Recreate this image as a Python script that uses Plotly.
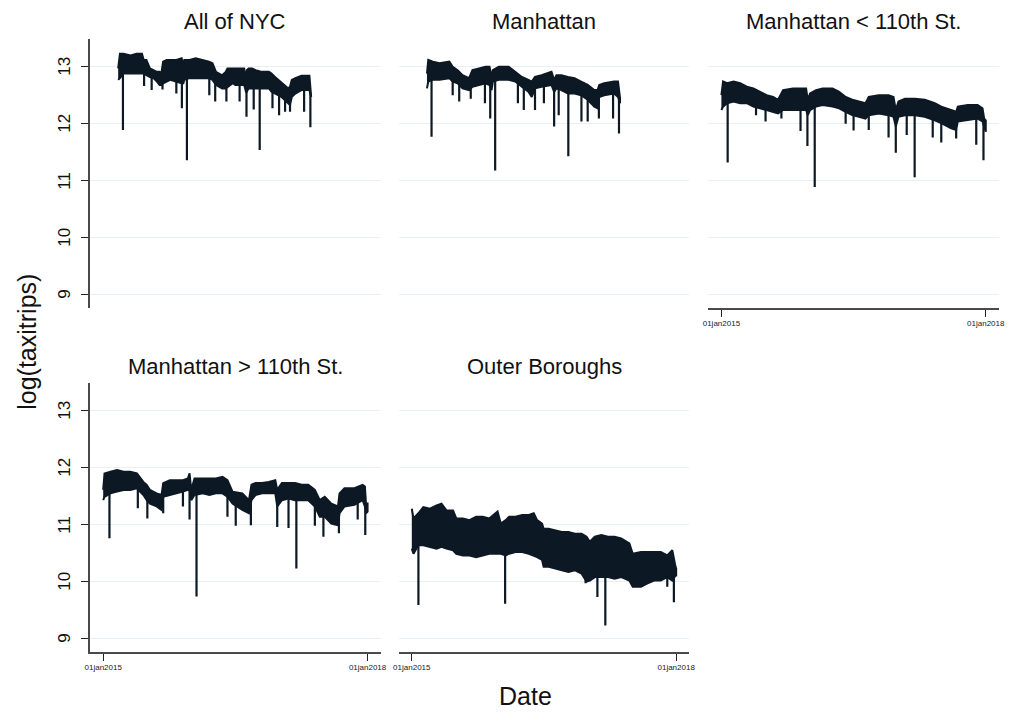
import numpy as np
import plotly.graph_objects as go

# ---------------- data (x in decimal years) ----------------
titles = ["All of NYC", "Manhattan", "Manhattan < 110th St.",
          "Manhattan > 110th St.", "Outer Boroughs"]
x_tick_vals = [2015, 2018]
x_tick_text = ["01jan2015", "01jan2018"]
y_tick_vals = [9, 10, 11, 12, 13]
y_title = "log(taxitrips)"
x_title = "Date"

# All of NYC: band of daily values (upper / lower envelope) and single-day dips
nyc_dates = [2015.17, 2015.19, 2015.23, 2015.31, 2015.38, 2015.44, 2015.46, 2015.49, 2015.53, 2015.57,
             2015.61, 2015.64, 2015.66, 2015.68, 2015.72, 2015.76, 2015.83, 2015.89, 2015.91, 2015.92,
             2015.98, 2016.05, 2016.13, 2016.20, 2016.24, 2016.28, 2016.35, 2016.39, 2016.41, 2016.47,
             2016.50, 2016.60, 2016.62, 2016.63, 2016.65, 2016.69, 2016.73, 2016.80, 2016.88, 2016.91,
             2016.95, 2016.99, 2017.03, 2017.06, 2017.10, 2017.12, 2017.14, 2017.18, 2017.25, 2017.34,
             2017.36]
nyc_upper = [12.97, 13.23, 13.23, 13.20, 13.23, 13.23, 13.12, 13.12, 12.97, 12.94,
             12.91, 12.91, 12.88, 13.09, 13.12, 13.12, 13.12, 13.15, 13.00, 13.12,
             13.12, 13.15, 13.12, 13.09, 13.06, 12.91, 12.85, 12.91, 12.97, 12.97,
             12.97, 12.97, 12.77, 12.94, 12.97, 12.97, 12.94, 12.91, 12.91, 12.88,
             12.82, 12.77, 12.71, 12.68, 12.62, 12.65, 12.77, 12.80, 12.84, 12.84,
             12.56]
nyc_lower = [12.77, 12.80, 12.88, 12.88, 12.88, 12.88, 12.88, 12.85, 12.82, 12.80,
             12.74, 12.68, 12.68, 12.71, 12.74, 12.77, 12.74, 12.71, 12.71, 12.77,
             12.80, 12.80, 12.80, 12.80, 12.77, 12.68, 12.62, 12.62, 12.65, 12.71,
             12.68, 12.68, 12.56, 12.56, 12.62, 12.62, 12.62, 12.62, 12.62, 12.56,
             12.53, 12.50, 12.46, 12.42, 12.36, 12.33, 12.47, 12.53, 12.59, 12.59,
             12.47]
nyc_dip_dates = [2015.224, 2015.464, 2015.55, 2015.673, 2015.83, 2015.893, 2015.95, 2016.204,
                 2016.271, 2016.398, 2016.548, 2016.626, 2016.708, 2016.776, 2016.921, 2016.996,
                 2017.064, 2017.12, 2017.28, 2017.351]
nyc_dip_vals = [11.89, 12.66, 12.59, 12.60, 12.53, 12.27, 11.36, 12.50,
                12.39, 12.39, 12.39, 12.12, 12.25, 11.54, 12.27, 12.15,
                12.21, 12.21, 12.21, 11.94]

# Manhattan
man_dates = [2015.172, 2015.187, 2015.239, 2015.314, 2015.426, 2015.464, 2015.520, 2015.576, 2015.650,
             2015.688, 2015.763, 2015.837, 2015.882, 2015.905, 2015.920, 2015.987, 2016.099, 2016.174,
             2016.249, 2016.323, 2016.361, 2016.398, 2016.473, 2016.585, 2016.615, 2016.641, 2016.697,
             2016.772, 2016.847, 2016.921, 2016.996, 2017.071, 2017.108, 2017.127, 2017.183, 2017.295,
             2017.340, 2017.363]
man_upper = [12.88, 13.12, 13.09, 13.06, 13.09, 13.00, 12.94, 12.85, 12.80,
             12.94, 12.97, 13.00, 13.00, 12.82, 12.94, 13.00, 13.00, 12.91,
             12.82, 12.77, 12.74, 12.82, 12.85, 12.91, 12.77, 12.85, 12.85,
             12.82, 12.80, 12.74, 12.68, 12.59, 12.59, 12.68, 12.71, 12.74,
             12.74, 12.45]
man_lower = [12.62, 12.74, 12.77, 12.77, 12.80, 12.74, 12.71, 12.62, 12.59,
             12.65, 12.68, 12.71, 12.68, 12.59, 12.74, 12.77, 12.77, 12.74,
             12.65, 12.56, 12.47, 12.62, 12.65, 12.68, 12.56, 12.62, 12.59,
             12.53, 12.53, 12.50, 12.42, 12.30, 12.27, 12.47, 12.50, 12.53,
             12.47, 12.36]
man_dip_dates = [2015.224, 2015.464, 2015.538, 2015.669, 2015.830, 2015.890, 2015.946, 2016.204,
                 2016.271, 2016.398, 2016.499, 2016.615, 2016.667, 2016.776, 2016.925, 2016.996,
                 2017.123, 2017.284, 2017.351]
man_dip_vals = [11.77, 12.50, 12.39, 12.44, 12.36, 12.09, 11.18, 12.36,
                12.24, 12.24, 12.36, 11.95, 12.15, 11.43, 12.04, 12.04,
                12.09, 12.09, 11.83]

# Manhattan < 110th St.
low_dates = [2015.000, 2015.019, 2015.064, 2015.138, 2015.213, 2015.288, 2015.363, 2015.438, 2015.513,
             2015.587, 2015.643, 2015.700, 2015.812, 2015.905, 2015.961, 2015.980, 2016.006, 2016.074,
             2016.149, 2016.261, 2016.336, 2016.410, 2016.485, 2016.560, 2016.635, 2016.672, 2016.785,
             2016.897, 2016.953, 2016.979, 2017.009, 2017.084, 2017.196, 2017.308, 2017.421, 2017.495,
             2017.608, 2017.664, 2017.683, 2017.795, 2017.907, 2017.963, 2017.982, 2018.000]
low_upper = [12.50, 12.74, 12.71, 12.74, 12.71, 12.65, 12.62, 12.56, 12.50,
             12.47, 12.42, 12.59, 12.62, 12.62, 12.62, 12.42, 12.53, 12.59,
             12.62, 12.62, 12.56, 12.47, 12.42, 12.39, 12.36, 12.47, 12.50,
             12.50, 12.47, 12.24, 12.39, 12.44, 12.44, 12.42, 12.36, 12.30,
             12.24, 12.21, 12.30, 12.33, 12.33, 12.27, 12.09, 12.06]
low_lower = [12.24, 12.30, 12.36, 12.39, 12.36, 12.36, 12.30, 12.27, 12.24,
             12.21, 12.18, 12.24, 12.24, 12.24, 12.24, 12.15, 12.24, 12.30,
             12.33, 12.30, 12.27, 12.21, 12.15, 12.12, 12.09, 12.15, 12.18,
             12.15, 12.12, 11.95, 12.12, 12.15, 12.15, 12.12, 12.06, 12.01,
             11.92, 11.89, 12.04, 12.06, 12.09, 12.04, 11.95, 11.86]
low_dip_dates = [2015.071, 2015.393, 2015.501, 2015.681, 2015.898, 2015.976, 2016.059, 2016.410,
                 2016.500, 2016.672, 2016.897, 2016.979, 2017.103, 2017.193, 2017.398, 2017.495,
                 2017.664, 2017.892, 2017.974]
low_dip_vals = [11.32, 12.15, 12.04, 12.09, 11.87, 11.61, 10.89, 12.00,
                11.88, 11.89, 11.76, 11.49, 11.80, 11.06, 11.76, 11.67,
                11.74, 11.63, 11.36]

# Manhattan > 110th St.
up_dates = [2015.000, 2015.015, 2015.082, 2015.157, 2015.232, 2015.307, 2015.382, 2015.456, 2015.494,
            2015.531, 2015.606, 2015.662, 2015.681, 2015.756, 2015.831, 2015.905, 2015.961, 2015.980,
            2015.999, 2016.036, 2016.130, 2016.205, 2016.279, 2016.354, 2016.410, 2016.467, 2016.579,
            2016.654, 2016.683, 2016.728, 2016.803, 2016.878, 2016.953, 2016.975, 2017.028, 2017.103,
            2017.177, 2017.252, 2017.327, 2017.402, 2017.458, 2017.514, 2017.589, 2017.664, 2017.682,
            2017.738, 2017.851, 2017.944, 2017.970, 2017.982, 2018.000]
up_upper = [11.61, 11.90, 11.93, 11.96, 11.93, 11.93, 11.90, 11.75, 11.70,
            11.61, 11.55, 11.52, 11.73, 11.78, 11.78, 11.78, 11.81, 11.90,
            11.61, 11.81, 11.81, 11.81, 11.81, 11.84, 11.78, 11.58, 11.55,
            11.43, 11.70, 11.73, 11.73, 11.75, 11.78, 11.61, 11.73, 11.73,
            11.73, 11.70, 11.70, 11.61, 11.43, 11.49, 11.37, 11.32, 11.55,
            11.64, 11.64, 11.70, 11.67, 11.37, 11.37]
up_lower = [11.43, 11.49, 11.55, 11.58, 11.61, 11.61, 11.64, 11.52, 11.43,
            11.37, 11.32, 11.26, 11.49, 11.52, 11.55, 11.58, 11.61, 11.61,
            11.43, 11.52, 11.55, 11.52, 11.55, 11.55, 11.49, 11.37, 11.26,
            11.20, 11.43, 11.52, 11.55, 11.55, 11.55, 11.32, 11.43, 11.46,
            11.43, 11.43, 11.43, 11.32, 11.14, 11.14, 11.02, 10.99, 11.20,
            11.32, 11.35, 11.43, 11.32, 11.20, 11.23]
up_dip_dates = [2015.071, 2015.393, 2015.501, 2015.681, 2015.905, 2015.980, 2016.059, 2016.410,
                2016.504, 2016.676, 2016.975, 2017.103, 2017.192, 2017.402, 2017.499, 2017.675,
                2017.888, 2017.974]
up_dip_vals = [10.76, 11.29, 11.11, 11.20, 11.32, 11.09, 9.74, 11.14,
               10.98, 10.99, 10.96, 10.94, 10.23, 10.98, 10.79, 10.85,
               11.09, 10.82]

# Outer Boroughs
ob_dates = [2015.000, 2015.019, 2015.075, 2015.131, 2015.206, 2015.281, 2015.337, 2015.393, 2015.468,
            2015.505, 2015.580, 2015.655, 2015.730, 2015.804, 2015.879, 2015.973, 2016.010, 2016.066,
            2016.104, 2016.178, 2016.253, 2016.328, 2016.384, 2016.422, 2016.478, 2016.496, 2016.553,
            2016.627, 2016.702, 2016.777, 2016.852, 2016.927, 2016.983, 2017.020, 2017.077, 2017.151,
            2017.226, 2017.301, 2017.376, 2017.469, 2017.507, 2017.600, 2017.675, 2017.750, 2017.825,
            2017.899, 2017.956, 2017.993, 2018.000]
ob_upper = [11.28, 11.11, 11.20, 11.31, 11.28, 11.34, 11.37, 11.25, 11.25,
            11.11, 11.11, 11.08, 11.14, 11.14, 11.11, 11.23, 11.02, 11.08,
            11.14, 11.14, 11.17, 11.17, 11.20, 11.08, 11.02, 10.93, 10.93,
            10.90, 10.87, 10.87, 10.84, 10.84, 10.79, 10.70, 10.79, 10.82,
            10.79, 10.79, 10.76, 10.67, 10.49, 10.52, 10.52, 10.52, 10.52,
            10.46, 10.55, 10.26, 10.23]
ob_lower = [10.58, 10.49, 10.64, 10.64, 10.61, 10.58, 10.61, 10.58, 10.55,
            10.49, 10.46, 10.46, 10.43, 10.46, 10.49, 10.49, 10.49, 10.46,
            10.49, 10.52, 10.52, 10.49, 10.46, 10.43, 10.38, 10.26, 10.26,
            10.23, 10.20, 10.17, 10.20, 10.14, 10.00, 10.02, 10.08, 10.08,
            10.08, 10.05, 10.08, 10.02, 9.91, 9.91, 9.97, 10.02, 10.02,
            10.08, 10.02, 10.11, 10.11]
ob_dip_dates = [2015.075, 2016.059, 2016.972, 2017.106, 2017.196, 2017.525, 2017.899, 2017.974]
ob_dip_vals = [9.59, 9.61, 9.97, 9.73, 9.23, 9.91, 9.91, 9.64]

series = [
    (nyc_dates, nyc_upper, nyc_lower, nyc_dip_dates, nyc_dip_vals),
    (man_dates, man_upper, man_lower, man_dip_dates, man_dip_vals),
    (low_dates, low_upper, low_lower, low_dip_dates, low_dip_vals),
    (up_dates, up_upper, up_lower, up_dip_dates, up_dip_vals),
    (ob_dates, ob_upper, ob_lower, ob_dip_dates, ob_dip_vals),
]

# ---------------- layout ----------------
W, H = 1012, 713
LINE = "#0c1824"
GRID = "#e9eff3"
AXIS = "#4a4a4a"
FONT = "Liberation Sans, Arial, Helvetica, sans-serif"

col_px = [(86, 380), (398, 692), (711, 1005)]
row_px = [(39, 308), (383, 652)]
cells = [(0, 0), (0, 1), (0, 2), (1, 0), (1, 1)]  # (row, col)
show_y = [True, False, False, True, False]
show_x = [False, False, True, True, True]

XR = [2014.851, 2018.151]
YR = [8.765, 13.487]

fig = go.Figure()
layout = dict(width=W, height=H, margin=dict(l=0, r=0, t=0, b=0),
              paper_bgcolor="white", plot_bgcolor="white", showlegend=False,
              font=dict(family=FONT, color="#111"))
annotations = []

for i, ((r, c), ser) in enumerate(zip(cells, series)):
    k = "" if i == 0 else str(i + 1)
    xa, ya = "x" + k, "y" + k
    dates, upper, lower, ddates, dvals = ser
    # band of daily values
    fig.add_trace(go.Scatter(
        x=list(dates) + list(dates)[::-1],
        y=list(upper) + list(lower)[::-1],
        fill="toself", fillcolor=LINE, mode="lines",
        line=dict(color=LINE, width=2.0), xaxis=xa, yaxis=ya, hoverinfo="skip"))
    # single-day dips
    base = np.interp(ddates, dates, lower)
    sx, sy = [], []
    for d, b, v in zip(ddates, base, dvals):
        sx += [d, d, None]
        sy += [b + 0.02, v, None]
    fig.add_trace(go.Scatter(x=sx, y=sy, mode="lines",
                             line=dict(color=LINE, width=2.2),
                             xaxis=xa, yaxis=ya, hoverinfo="skip"))

    x0, x1 = col_px[c]
    y0, y1 = row_px[r]
    layout["xaxis" + k] = dict(
        domain=[x0 / W, x1 / W], anchor=ya, range=XR, showgrid=False, zeroline=False,
        showline=show_x[i], linecolor=AXIS, linewidth=1.6,
        tickvals=x_tick_vals, ticktext=x_tick_text,
        ticks="outside" if show_x[i] else "", ticklen=7, tickwidth=1.4, tickcolor="#222",
        showticklabels=show_x[i], tickfont=dict(size=8, color="#222", family=FONT))
    layout["yaxis" + k] = dict(
        domain=[1 - y1 / H, 1 - y0 / H], anchor=xa, range=YR,
        showgrid=True, gridcolor=GRID, gridwidth=1.3, zeroline=False,
        showline=show_y[i], linecolor=AXIS, linewidth=1.6,
        tickvals=y_tick_vals, ticks="outside" if show_y[i] else "",
        ticklen=7, tickwidth=1.4, tickcolor="#222", showticklabels=False)
    if show_y[i]:
        # rotated y tick labels (read bottom-to-top, as in the reference)
        for v in y_tick_vals:
            annotations.append(dict(text=str(v), x=0, xref=xa + " domain", y=v, yref=ya,
                                    xshift=-25, showarrow=False, textangle=-90,
                                    xanchor="center", yanchor="middle",
                                    font=dict(size=17, color="#111", family=FONT)))
    title_y = y0 - 17
    annotations.append(dict(text=titles[i], x=(x0 + x1) / 2 / W, y=1 - title_y / H,
                            xref="paper", yref="paper", showarrow=False,
                            xanchor="center", yanchor="middle",
                            font=dict(size=22, color="#111", family=FONT)))

annotations.append(dict(text=y_title, x=22 / W, y=1 - 342 / H, xref="paper", yref="paper",
                        showarrow=False, textangle=-90, xanchor="center", yanchor="middle",
                        font=dict(size=25, color="#111", family=FONT)))
annotations.append(dict(text=x_title, x=526 / W, y=1 - 696 / H, xref="paper", yref="paper",
                        showarrow=False, xanchor="center", yanchor="middle",
                        font=dict(size=25, color="#111", family=FONT)))
layout["annotations"] = annotations
fig.update_layout(**layout)
fig.write_html("out.html", config={"displayModeBar": False},
               post_script="document.body.style.margin='0';document.body.style.overflow='hidden';")
